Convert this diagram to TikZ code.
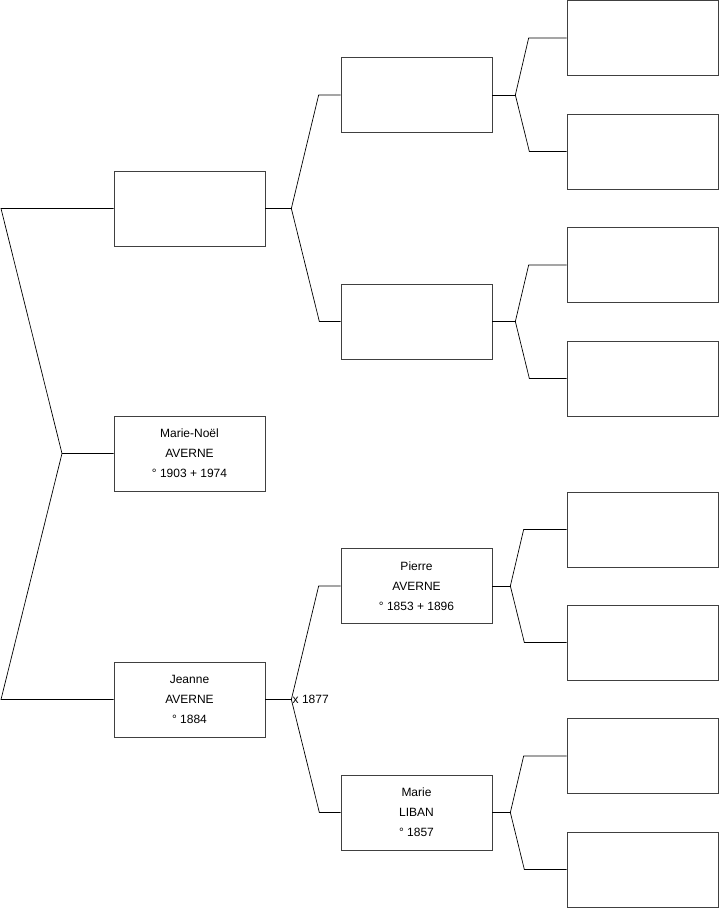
\documentclass[tikz,border=0pt]{standalone}
\usepackage{fontspec}
\setmainfont{Liberation Sans}
\usetikzlibrary{positioning}

\begin{document}
\begin{tikzpicture}[x=1pt, y=-1pt, line width=0.7pt,
  box/.style={draw=black!75,minimum width=151pt,minimum height=75pt,inner sep=0pt,align=center,font=\fontsize{12}{20}\selectfont}]
\useasboundingbox (0,0) rectangle (719,908);
% generation 1
\node[box] (fa)  at (189.5,208.5) {};
\node[box] (me)  at (189.5,453.5) {Marie-Noël\\AVERNE\\° 1903 + 1974};
\node[box] (mo)  at (189.5,699.5) {Jeanne\\AVERNE\\° 1884};
% generation 2
\node[box] (ffa) at (416.5,95)    {};
\node[box] (fmo) at (416.5,321.5) {};
\node[box] (mfa) at (416.5,586)   {Pierre\\AVERNE\\° 1853 + 1896};
\node[box] (mmo) at (416.5,812.5) {Marie\\LIBAN\\° 1857};
% generation 3
\node[box] (fffa) at (642.5,38)    {};
\node[box] (ffmo) at (642.5,151.5) {};
\node[box] (fmfa) at (642.5,265)   {};
\node[box] (fmmo) at (642.5,378.5) {};
\node[box] (mffa) at (642.5,529.5) {};
\node[box] (mfmo) at (642.5,642.5) {};
\node[box] (mmfa) at (642.5,756)   {};
\node[box] (mmmo) at (642.5,869.5) {};
% forks
\coordinate (k0) at (62,453.5);
\draw (me.west) -- (k0) -- ++(-61,-245) -- (fa.west);
\draw (k0) -- ++(-61,246) -- (mo.west);
\draw (fa.east) -- ++(26,0) coordinate (k1);
\draw (ffa.west) -- ++(-22,0) -- (k1) -- ++(28,113) -- (fmo.west);
\draw (mo.east) -- ++(26,0) coordinate (k2) node[right,inner sep=1pt,font=\fontsize{12}{14}\selectfont] {x 1877};
\draw (mfa.west) -- ++(-22,0) -- (k2) -- ++(28,113) -- (mmo.west);
\draw (ffa.east) -- ++(23,0) coordinate (k3);
\draw (fffa.west) -- ++(-38,0) -- (k3) -- ++(14,56.5) -- (ffmo.west);
\draw (fmo.east) -- ++(23,0) coordinate (k4);
\draw (fmfa.west) -- ++(-38,0) -- (k4) -- ++(14,57) -- (fmmo.west);
\draw (mfa.east) -- ++(18,0) coordinate (k5);
\draw (mffa.west) -- ++(-43,0) -- (k5) -- ++(14,56.5) -- (mfmo.west);
\draw (mmo.east) -- ++(18,0) coordinate (k6);
\draw (mmfa.west) -- ++(-43,0) -- (k6) -- ++(14,57) -- (mmmo.west);
\end{tikzpicture}
\end{document}
